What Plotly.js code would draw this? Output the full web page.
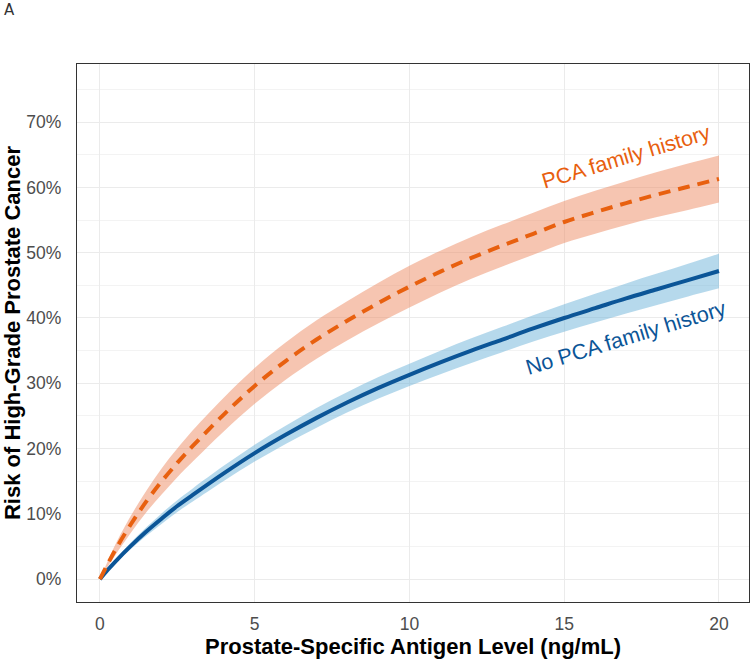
<!DOCTYPE html>
<html>
<head>
<meta charset="utf-8">
<script src="https://cdn.plot.ly/plotly-3.0.1.min.js"></script>
<style>html,body{margin:0;padding:0;background:#fff;}#chart{width:750px;height:659px;}</style>
</head>
<body>
<div id="chart"></div>
<script>
// PSA level (ng/mL)
var psa = [0, 0.25, 0.5, 1, 1.5, 2, 2.5, 3, 4, 5, 6, 7, 8, 9, 10, 11, 12, 13, 14, 15, 16, 17, 18, 19, 20];
// Risk (%) with PCA family history: estimate and 95% band
var famRisk  = [0, 2.3, 4.5, 8.4, 11.9, 15.0, 17.8, 20.4, 25.2, 29.6, 33.4, 36.7, 39.6, 42.3, 44.8, 47.1, 49.2, 51.1, 52.9, 54.7, 56.2, 57.6, 58.9, 60.1, 61.3];
var famUpper = [0, 2.7, 5.3, 9.7, 13.55, 17.0, 20.0, 22.8, 27.8, 32.35, 36.25, 39.65, 42.6, 45.4, 48.0, 50.3, 52.4, 54.3, 56.1, 57.9, 59.5, 60.95, 62.35, 63.65, 64.9];
var famLower = [0, 1.9, 3.7, 7.1, 10.25, 13.0, 15.6, 18.0, 22.6, 26.85, 30.55, 33.75, 36.6, 39.2, 41.6, 43.9, 46.0, 47.9, 49.7, 51.5, 52.9, 54.25, 55.45, 56.55, 57.7];
// Risk (%) without PCA family history: estimate and 95% band
var noFamRisk  = [0, 1.4, 2.7, 5.1, 7.3, 9.3, 11.2, 12.9, 16.2, 19.3, 22.1, 24.7, 27.1, 29.3, 31.3, 33.2, 35.0, 36.7, 38.4, 40.0, 41.5, 43.0, 44.4, 45.8, 47.2];
var noFamUpper = [0, 1.6, 3.0, 5.6, 7.95, 10.1, 12.1, 13.9, 17.35, 20.6, 23.5, 26.2, 28.65, 30.95, 33.0, 35.0, 36.9, 38.65, 40.4, 42.1, 43.7, 45.3, 46.8, 48.3, 49.85];
var noFamLower = [0, 1.2, 2.4, 4.6, 6.65, 8.5, 10.3, 11.9, 15.05, 18.0, 20.7, 23.2, 25.55, 27.65, 29.6, 31.4, 33.1, 34.75, 36.4, 37.9, 39.3, 40.7, 42.0, 43.3, 44.55];

var xTicks = [0, 5, 10, 15, 20];
var yTicks = [0, 10, 20, 30, 40, 50, 60, 70];
var yMinor = [5, 15, 25, 35, 45, 55, 65, 75];

var orange = '#E8600F', orangeFill = 'rgba(238,140,100,0.5)';
var blue = '#0B5597', blueFill = 'rgba(110,180,218,0.5)';

var traces = [
  {x: psa, y: famLower, mode: 'lines', line: {width: 0, color: orangeFill, shape: 'spline'}, hoverinfo: 'skip', showlegend: false},
  {x: psa, y: famUpper, mode: 'lines', line: {width: 0, color: orangeFill, shape: 'spline'}, fill: 'tonexty', fillcolor: orangeFill, hoverinfo: 'skip', showlegend: false},
  {x: psa, y: noFamLower, mode: 'lines', line: {width: 0, color: blueFill, shape: 'spline'}, hoverinfo: 'skip', showlegend: false},
  {x: psa, y: noFamUpper, mode: 'lines', line: {width: 0, color: blueFill, shape: 'spline'}, fill: 'tonexty', fillcolor: blueFill, hoverinfo: 'skip', showlegend: false},
  {x: psa, y: noFamRisk, mode: 'lines', line: {width: 4, color: blue, shape: 'spline'}, showlegend: false},
  {x: psa, y: famRisk, mode: 'lines', line: {width: 4, color: orange, dash: '12px,8px', shape: 'spline'}, showlegend: false}
];

var layout = {
  width: 750, height: 659,
  margin: {l: 77, r: 1, t: 64, b: 57},
  paper_bgcolor: '#fff', plot_bgcolor: '#fff',
  font: {family: 'Liberation Sans, Arial, sans-serif', color: '#4D4D4D'},
  showlegend: false,
  xaxis: {
    range: [-0.74, 20.97], tickvals: xTicks, ticktext: xTicks.map(String),
    showgrid: true, gridcolor: '#EBEBEB', gridwidth: 1, zeroline: false,
    showline: true, mirror: true, linecolor: '#333', linewidth: 1.2,
    ticks: 'outside', ticklen: 6, tickcolor: 'rgba(0,0,0,0)',
    tickfont: {size: 17.5, color: '#4D4D4D'}, automargin: false,
    title: {text: '<b>Prostate-Specific Antigen Level (ng/mL)</b>', font: {size: 22, color: '#000'}, standoff: 5}
  },
  yaxis: {
    range: [-3.5, 78.9], tickvals: yTicks, ticktext: yTicks.map(function(v){return v + '%';}),
    showgrid: true, gridcolor: '#EBEBEB', gridwidth: 1, zeroline: false,
    minor: {tickvals: yMinor, showgrid: true, gridcolor: '#F3F3F3', gridwidth: 1},
    showline: true, mirror: true, linecolor: '#333', linewidth: 1.2,
    ticks: 'outside', ticklen: 11, tickcolor: 'rgba(0,0,0,0)',
    tickfont: {size: 17.5, color: '#4D4D4D'}, automargin: false,
    title: {text: '<b>Risk of High-Grade Prostate Cancer</b>', font: {size: 22, color: '#000'}, standoff: 5}
  },
  annotations: [
    {xref: 'paper', yref: 'paper', x: -0.1118, y: 1.12, xanchor: 'left', yanchor: 'top', text: 'A', showarrow: false, font: {size: 15, color: '#333', family: 'DejaVu Sans, sans-serif'}},
    {x: 17.0, y: 64.6, text: 'PCA family history', showarrow: false, textangle: -16.7, font: {size: 21.5, color: orange}},
    {x: 17.0, y: 36.9, text: 'No PCA family history', showarrow: false, textangle: -16.9, font: {size: 21.5, color: blue}}
  ]
};

Plotly.newPlot('chart', traces, layout, {displayModeBar: false, staticPlot: true});
</script>
</body>
</html>
